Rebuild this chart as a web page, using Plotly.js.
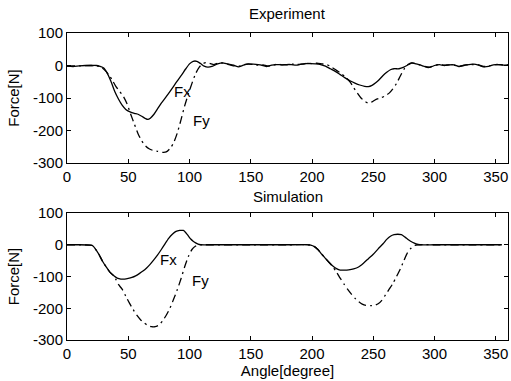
<!DOCTYPE html>
<html>
<head>
<meta charset="utf-8">
<script src="https://cdn.plot.ly/plotly-3.0.1.min.js"></script>
<style>
  html, body { margin: 0; padding: 0; background: #fff; }
  #chart { width: 511px; height: 381px; }
</style>
</head>
<body>
<div id="chart"></div>
<script>
// Measured forces over one revolution: experiment (top) and simulation (bottom)

const expFxAngle = [0,5,10,15,20,24,27,30,33,36,39,42,45,48,51,55,58,61,64,66,68,71,74,77,81,85,89,93,97,100,103,106,109,112,115,119,123,127,131,136,140,144,148,152,156,160,163,167,171,175,179,183,187,191,195,199,203,207,211,215,219,223,227,231,235,239,243,246,249,252,255,258,261,264,267,271,275,279,282,285,288,291,294,297,300,304,308,312,316,320,324,328,332,336,340,344,348,352,356,360];
const expFxValue = [-2,-3,-1,0,0,0,-3,-8,-25,-50,-80,-103,-122,-135,-142,-147,-150,-156,-163,-166,-162,-150,-133,-116,-96,-75,-53,-32,-10,5,13,13,6,-2,-5,-2,5,8,5,1,-4,1,4,4,3,0,-3,1,3,2,3,3,1,4,6,6,5,3,-2,-10,-18,-28,-38,-47,-54,-60,-64,-65,-61,-53,-43,-31,-21,-13,-10,-10,-5,3,8,5,2,-2,-6,-5,0,3,0,2,2,-3,0,3,4,1,-4,-3,2,3,1,2];

const expFyAngle = [0,10,20,25,28,31,34,37,40,43,46,49,52,55,58,61,64,67,70,74,78,81,84,87,90,93,96,99,102,105,108,111,114,117,120,124,128,132,136,140,144,148,152,156,160,164,168,172,176,180,184,188,192,196,200,204,208,212,216,220,224,228,231,234,237,240,243,246,249,252,256,260,263,266,269,272,275,278,281,284,288,292,296,300,304,308,312,316,320,324,328,332,336,340,344,348,352,356,360];
const expFyValue = [-2,-1,0,-2,-5,-15,-28,-45,-65,-80,-95,-118,-150,-180,-210,-232,-247,-256,-261,-264,-267,-266,-256,-238,-208,-168,-125,-88,-55,-25,-5,6,9,6,3,8,7,3,-1,-3,2,5,3,1,2,-2,1,4,2,2,4,3,4,7,6,7,5,3,-5,-15,-25,-38,-50,-68,-85,-100,-110,-116,-112,-105,-100,-93,-85,-72,-55,-33,-12,2,8,6,2,-3,-5,0,3,1,2,1,-2,1,3,3,2,-3,-2,2,3,2,2];

const simFxAngle = [0,10,19,21,23,26,29,32,35,38,41,44,47,50,53,56,59,62,65,68,71,74,77,80,83,86,89,92,95,97,99,101,103,105,107,109,120,150,180,196,199,202,205,208,211,214,217,220,223,226,230,234,238,242,246,250,254,258,261,264,267,270,273,276,279,282,285,288,300,330,355];
const simFxValue = [0,0,-1,-3,-12,-30,-52,-70,-86,-97,-105,-108,-108,-106,-103,-98,-91,-83,-73,-61,-47,-32,-15,3,20,33,42,45,45,38,28,18,11,6,2,0,0,0,0,0,-1,-6,-16,-30,-43,-56,-67,-75,-80,-80,-79,-76,-70,-58,-44,-30,-13,3,17,27,32,33,32,24,15,8,3,0,0,0,0];

const simFyAngle = [0,10,19,21,23,26,29,32,35,38,40,42,45,48,51,54,57,60,63,66,69,72,75,78,81,84,87,90,93,96,99,102,105,107,110,150,180,196,199,202,205,208,211,214,217,220,223,226,229,232,235,238,241,244,248,251,254,257,260,263,266,269,272,275,278,281,284,287,300,330,355];
const simFyValue = [0,0,-1,-3,-12,-30,-52,-70,-86,-97,-110,-125,-140,-162,-184,-204,-222,-236,-246,-254,-258,-258,-253,-240,-222,-200,-172,-142,-108,-70,-38,-15,-4,0,0,0,0,0,-1,-6,-16,-30,-43,-56,-69,-86,-105,-123,-140,-155,-168,-179,-187,-191,-192,-191,-186,-175,-158,-140,-122,-100,-77,-50,-25,-10,-2,0,0,0,0];

const angleTicks = [0, 50, 100, 150, 200, 250, 300, 350];
const forceTicks = [-300, -200, -100, 0, 100];
const panelTitles = ['Experiment', 'Simulation'];
const seriesNames = ['Fx', 'Fy'];

const FONT = 'Liberation Sans, Arial, Helvetica, sans-serif';
const INK = '#000';
const TICK_SIZE = 15;
const TEXT_SIZE = 15;

function line(x, y, xa, ya, name, dash) {
  return {
    x: x, y: y, xaxis: xa, yaxis: ya, name: name,
    type: 'scatter', mode: 'lines',
    line: { color: INK, width: 1.3, dash: dash, shape: 'spline', smoothing: 0.6 },
    hoverinfo: 'skip', showlegend: false
  };
}

const DASHDOT = '8px,4px,2px,4px';
const traces = [
  line(expFxAngle, expFxValue, 'x', 'y', seriesNames[0], 'solid'),
  line(expFyAngle, expFyValue, 'x', 'y', seriesNames[1], DASHDOT),
  line(simFxAngle, simFxValue, 'x2', 'y2', seriesNames[0], 'solid'),
  line(simFyAngle, simFyValue, 'x2', 'y2', seriesNames[1], DASHDOT)
];

const W = 511, H = 381;
const xDom = [67 / W, 508 / W];

function xAxis(anchor, withTitle) {
  const ax = {
    domain: xDom, anchor: anchor, range: [0, 360],
    tickmode: 'array', tickvals: angleTicks, ticktext: angleTicks.map(String),
    ticks: 'inside', ticklen: 4, tickwidth: 1, tickcolor: INK,
    showline: true, linecolor: INK, linewidth: 1, mirror: 'ticks',
    showgrid: false, zeroline: false,
    tickfont: { family: FONT, size: TICK_SIZE, color: INK }
  };
  if (withTitle) {
    ax.title = { text: 'Angle[degree]', font: { family: FONT, size: TEXT_SIZE, color: INK }, standoff: 3 };
  }
  return ax;
}

function yAxis(anchor, dom) {
  return {
    domain: dom, anchor: anchor, range: [-300, 100],
    tickmode: 'array', tickvals: forceTicks, ticktext: forceTicks.map(String),
    ticks: 'inside', ticklen: 4, tickwidth: 1, tickcolor: INK,
    showline: true, linecolor: INK, linewidth: 1, mirror: 'ticks',
    showgrid: false, zeroline: false,
    tickfont: { family: FONT, size: TICK_SIZE, color: INK },
    title: { text: 'Force[N]', font: { family: FONT, size: TEXT_SIZE, color: INK }, standoff: 9 }
  };
}

function label(text, x, y, xref, yref) {
  return {
    text: text, x: x, y: y, xref: xref, yref: yref,
    xanchor: 'left', yanchor: 'middle', showarrow: false,
    font: { family: FONT, size: TEXT_SIZE, color: INK }
  };
}

function panelTitle(text, yPx) {
  return {
    text: text, x: 0.5 * (xDom[0] + xDom[1]), y: 1 - yPx / H, xref: 'paper', yref: 'paper',
    xanchor: 'center', yanchor: 'middle', showarrow: false,
    font: { family: FONT, size: TEXT_SIZE, color: INK }
  };
}

const layout = {
  width: W, height: H,
  margin: { l: 0, r: 0, t: 0, b: 0 },
  paper_bgcolor: '#fff', plot_bgcolor: '#fff',
  xaxis: xAxis('y', false),
  yaxis: yAxis('x', [1 - 163 / H, 1 - 33 / H]),
  xaxis2: xAxis('y2', true),
  yaxis2: yAxis('x2', [1 - 340 / H, 1 - 213 / H]),
  annotations: [
    panelTitle(panelTitles[0], 14),
    panelTitle(panelTitles[1], 196),
    label(seriesNames[0], 86, -81, 'x', 'y'),
    label(seriesNames[1], 101, -168, 'x', 'y'),
    label(seriesNames[0], 74, -48, 'x2', 'y2'),
    label(seriesNames[1], 100, -114, 'x2', 'y2')
  ]
};

Plotly.newPlot('chart', traces, layout, { displayModeBar: false, staticPlot: true });
</script>
</body>
</html>
